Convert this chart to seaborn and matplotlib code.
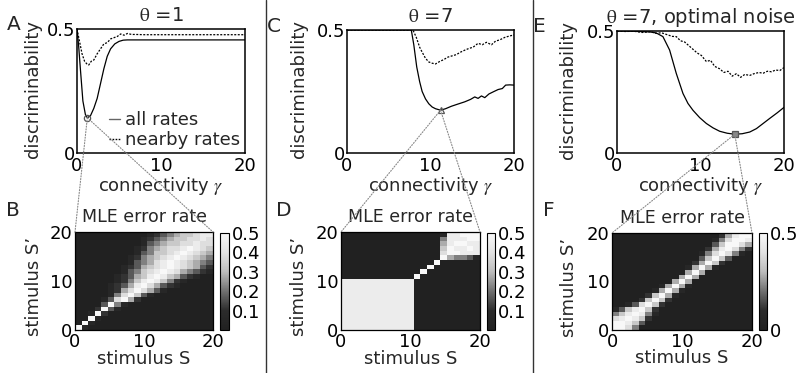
import numpy as np
import matplotlib
matplotlib.use("Agg")
import matplotlib.pyplot as plt
import seaborn as sns
from matplotlib.colors import LinearSegmentedColormap
from matplotlib.patches import ConnectionPatch
from matplotlib.lines import Line2D

# ---------------- data ----------------
# Panel A (theta = 1)
a_x_all = [0, 0.2, 0.4, 0.7, 1.0, 1.23, 1.6, 2.0, 2.4, 2.8, 3.2, 3.6, 4.0, 4.5, 5.0, 5.5, 6, 8, 10, 15, 20]
a_y_all = [0.5, 0.43, 0.34, 0.21, 0.155, 0.142, 0.15, 0.18, 0.22, 0.28, 0.34, 0.39, 0.42, 0.44, 0.45, 0.455,
           0.456, 0.456, 0.456, 0.456, 0.456]
a_x_near = [0, 0.3, 0.6, 0.9, 1.2, 1.4, 1.7, 2.0, 2.4, 2.8, 3.2, 3.6, 4.0, 4.4, 4.8, 5.2, 5.6, 6.0, 6.5, 7, 8, 10, 20]
a_y_near = [0.5, 0.45, 0.40, 0.37, 0.358, 0.355, 0.37, 0.375, 0.40, 0.42, 0.44, 0.445, 0.46, 0.465, 0.47, 0.48,
            0.475, 0.482, 0.478, 0.478, 0.477, 0.477, 0.477]

# Panel C (theta = 7)
c_x_all = [0, 7.7, 8.0, 8.35, 8.7, 9.0, 9.4, 9.8, 10.2, 10.6, 11.2, 11.8, 12.5, 13.2, 14.1, 14.8, 15.3, 15.7,
           16.1, 16.5, 17.0, 17.6, 18.1, 18.6, 19.0, 19.5, 20]
c_y_all = [0.5, 0.5, 0.44, 0.35, 0.29, 0.25, 0.22, 0.20, 0.187, 0.18, 0.174, 0.18, 0.19, 0.198, 0.208, 0.218,
           0.228, 0.222, 0.232, 0.225, 0.24, 0.25, 0.258, 0.262, 0.276, 0.277, 0.276]
c_x_near = [0, 7.9, 8.3, 8.7, 9.0, 9.4, 9.8, 10.2, 10.6, 11.1, 11.6, 12.1, 12.6, 13.1, 13.6, 14.1, 14.6, 15.1,
            15.7, 16.2, 16.7, 17.3, 17.8, 18.3, 18.9, 19.4, 20]
c_y_near = [0.5, 0.5, 0.47, 0.43, 0.41, 0.385, 0.37, 0.365, 0.362, 0.372, 0.38, 0.39, 0.395, 0.40, 0.41, 0.418,
            0.425, 0.43, 0.446, 0.44, 0.45, 0.44, 0.455, 0.46, 0.47, 0.475, 0.48]

# Panel E (theta = 7, optimal noise)
e_x_all = [0, 2, 4, 4.7, 5.5, 6.3, 7.1, 7.9, 8.5, 9.1, 9.9, 10.7, 11.5, 12.3, 13.2, 14.1, 15.0, 15.9, 16.7,
           17.5, 18.3, 19.2, 20]
e_y_all = [0.5, 0.499, 0.496, 0.492, 0.477, 0.422, 0.326, 0.244, 0.203, 0.175, 0.145, 0.121, 0.103, 0.089,
           0.081, 0.077, 0.079, 0.086, 0.1, 0.121, 0.142, 0.165, 0.187]
e_x_near = [0, 1, 2, 3, 4, 4.7, 5.3, 6, 6.6, 7.1, 7.6, 8.1, 8.6, 9.1, 9.6, 10.1, 10.7, 11.2, 11.7, 12.3, 12.8,
            13.3, 13.8, 14.3, 14.8, 15.3, 15.9, 16.4, 17, 17.5, 18, 18.5, 19, 19.5, 20]
e_y_near = [0.5, 0.498, 0.499, 0.494, 0.497, 0.49, 0.493, 0.485, 0.478, 0.477, 0.46, 0.455, 0.44, 0.425, 0.41,
            0.40, 0.375, 0.38, 0.355, 0.345, 0.33, 0.335, 0.315, 0.325, 0.31, 0.322, 0.318, 0.325, 0.33, 0.327,
            0.335, 0.333, 0.34, 0.338, 0.35]

# MLE error-rate maps: rows S' = 20 (top) ... 0 (bottom), columns S = 0..20; digit d -> d/18
b_rows = [
    "000000000001234566788",
    "000000000012345667787",
    "000000000013456677877",
    "000000000124567789876",
    "000000000134667898765",
    "000000001245678987654",
    "000000001345789876543",
    "000000012356789876532",
    "000000013467898754321",
    "000000123568986532100",
    "000000124689864210000",
    "000001235897532100000",
    "000001257975310000000",
    "000001479631000000000",
    "000013795200000000000",
    "000039410000000000000",
    "000293100000000000000",
    "001920000000000000000",
    "009100000000000000000",
    "091000000000000000000",
    "910000000000000000000",
]
d_rows = [
    "000000000000000188999",
    "000000000000000488899",
    "000000000000000589988",
    "000000000000000698898",
    "000000000000000799888",
    "000000000000000954431",
    "000000000000009000000",
    "000000000000090000000",
    "000000000000900000000",
    "000000000009000000000",
    "888888888880000000000",
    "888888888880000000000",
    "888888888880000000000",
    "888888888880000000000",
    "888888888880000000000",
    "888888888880000000000",
    "888888888880000000000",
    "888888888880000000000",
    "888888888880000000000",
    "888888888880000000000",
    "888888888880000000000",
]
f_rows = [
    "000000000000000025899",
    "000000000000000147998",
    "000000000000000369975",
    "000000000000002589742",
    "000000000000014797410",
    "000000000000036963000",
    "000000000000259620000",
    "000000000001595100000",
    "000000000005950000000",
    "000000000059500000000",
    "000000000595000000000",
    "000000015951000000000",
    "000000159510000000000",
    "000002695100000000000",
    "000026962000000000000",
    "001379620000000000000",
    "136896200000000000000",
    "468984100000000000000",
    "789862000000000000000",
    "998630000000000000000",
    "997400000000000000000",
]
stim_ticks = [0, 10, 20]
conn_ticks = [0, 10, 20]
disc_ticks = [0, 0.5]

# ---------------- style ----------------
sns.set_theme(style="white")
plt.rcParams["font.family"] = ["DejaVu Sans"]
plt.rcParams["mathtext.fontset"] = "stix"
FS = 13

W, H = 799, 373
fig = plt.figure(figsize=(W / 100, H / 100), dpi=100)


def rect(l, r, t, b):
    return [l / W, 1 - b / H, (r - l) / W, (b - t) / H]


cmap = LinearSegmentedColormap.from_list(
    "g", [(0.0, "#212121"), (0.2, "#2c2c2c"), (0.4, "#707070"), (0.6, "#bcbcbc"), (0.8, "#e2e2e2"),
          (1.0, "#f8f8f8")])


def to_mat(rows):
    return np.array([[int(c) / 18 for c in r] for r in rows])


def line_panel(r, xa, ya, xn, yn, title, tfs, marker, mfc, ylab_x, legend=False):
    ax = fig.add_axes(rect(*r))
    sns.lineplot(x=xa, y=ya, ax=ax, color="black", lw=0.9, legend=False)
    sns.lineplot(x=xn, y=yn, ax=ax, color="black", lw=0.9, linestyle=(0, (1.6, 1.2)), legend=False)
    i = int(np.argmin(ya))
    ax.plot([xa[i]], [ya[i]], marker=marker, ms=4.5, mfc=mfc, mec="#555555", mew=0.9, zorder=5)
    ax.set_xlim(0, 20)
    ax.set_ylim(0, 0.5)
    ax.set_xticks(conn_ticks)
    ax.set_xticklabels([str(t) for t in conn_ticks])
    ax.set_yticks(disc_ticks)
    ax.set_yticklabels(["0", "0.5"])
    ax.tick_params(axis="both", direction="in", length=2.5, width=0.8, labelsize=FS, colors="black")
    ax.tick_params(axis="x", pad=3)
    ax.tick_params(axis="y", pad=1)
    for s in ax.spines.values():
        s.set_visible(True)
        s.set_color("black")
        s.set_linewidth(1.1)
    ax.set_xlabel(r"connectivity $\gamma$", fontsize=FS)
    ax.set_ylabel("discriminability", fontsize=FS)
    ax.xaxis.set_label_coords(0.5, -0.18)
    ax.yaxis.set_label_coords(ylab_x, 0.52)
    ax.set_title(title, fontsize=tfs, pad=5.5)
    if legend:
        handles = [Line2D([], [], color="#666666", lw=1.0),
                   Line2D([], [], color="black", lw=1.0, linestyle=(0, (1.2, 1.0)))]
        ax.legend(handles, ["all rates", "nearby rates"], loc="lower left", bbox_to_anchor=(0.19, 0.03),
                  frameon=False, fontsize=FS, handlelength=0.6, handletextpad=0.3, labelspacing=0.1,
                  borderpad=0, borderaxespad=0)
    return ax, (xa[i], ya[i])


def heat_panel(r, cr, rows, cticks, clabels, ylab_x):
    ax = fig.add_axes(rect(*r))
    cax = fig.add_axes(rect(*cr))
    sns.heatmap(to_mat(rows), ax=ax, cbar_ax=cax, cmap=cmap, vmin=0, vmax=0.5,
                xticklabels=False, yticklabels=False)
    n = len(rows)
    ax.set_xticks([t / 20 * n for t in stim_ticks])
    ax.set_xticklabels([str(t) for t in stim_ticks])
    ax.set_yticks([n - t / 20 * n for t in stim_ticks])
    ax.set_yticklabels([str(t) for t in stim_ticks], rotation=0)
    ax.tick_params(length=0, labelsize=FS, pad=2, colors="black")
    for s in ax.spines.values():
        s.set_visible(True)
        s.set_color("black")
        s.set_linewidth(0.9)
    ax.set_xlabel("stimulus S", fontsize=FS)
    ax.set_ylabel("stimulus S\u2019", fontsize=FS)
    ax.xaxis.set_label_coords(0.5, -0.2)
    ax.yaxis.set_label_coords(ylab_x, 0.44)
    ax.set_title("MLE error rate", fontsize=12.5, pad=7)
    cax.set_yticks(cticks)
    cax.set_yticklabels(clabels)
    cax.tick_params(length=0, labelsize=FS, pad=2, colors="black")
    cb = ax.collections[0].colorbar
    cb.outline.set_visible(True)
    cb.outline.set_edgecolor("black")
    cb.outline.set_linewidth(0.8)
    return ax


axA, pA = line_panel((77, 245, 29, 153), a_x_all, a_y_all, a_x_near, a_y_near, r"$\mathrm{\theta}$ =1", 14,
                     "o", "none", -0.21, legend=True)
axC, pC = line_panel((347, 514, 30, 153), c_x_all, c_y_all, c_x_near, c_y_near, r"$\mathrm{\theta}$ =7", 14,
                     "^", "none", -0.235)
axE, pE = line_panel((617, 784, 31, 153), e_x_all, e_y_all, e_x_near, e_y_near,
                     r"$\mathrm{\theta}$ =7, optimal noise", 14, "s", "#888888", -0.24)

axB = heat_panel((75, 213, 232, 330), (220, 229, 233, 330), b_rows, [0.1, 0.2, 0.3, 0.4, 0.5],
                 ["0.1", "0.2", "0.3", "0.4", "0.5"], -0.23)
axD = heat_panel((341, 480, 232, 330), (487, 495, 233, 330), d_rows, [0.1, 0.2, 0.3, 0.4, 0.5],
                 ["0.1", "0.2", "0.3", "0.4", "0.5"], -0.237)
axF = heat_panel((612, 752, 233, 330), (759, 767, 233, 330), f_rows, [0, 0.5], ["0", "0.5"], -0.245)

# dotted connectors from the chosen point to the map
for axt, p, axh in [(axA, pA, axB), (axC, pC, axD), (axE, pE, axF)]:
    for corner in [(0, 1), (1, 1)]:
        cp = ConnectionPatch(xyA=p, coordsA=axt.transData, xyB=corner, coordsB=axh.transAxes,
                             color="#888888", lw=0.8, linestyle=(0, (1, 1.5)), zorder=10)
        fig.add_artist(cp)

# separators
for xs in [266, 532.5]:
    fig.add_artist(Line2D([xs / W, xs / W], [0, 1], color="#333333", lw=1.0))

# panel letters
for lab, x, y in [("A", 14, 25), ("B", 13, 210), ("C", 274, 27), ("D", 284, 210), ("E", 539, 27),
                  ("F", 549, 210)]:
    fig.text(x / W, 1 - y / H, lab, fontsize=14.5, ha="center", va="center")

fig.savefig("out.png", dpi=100)
